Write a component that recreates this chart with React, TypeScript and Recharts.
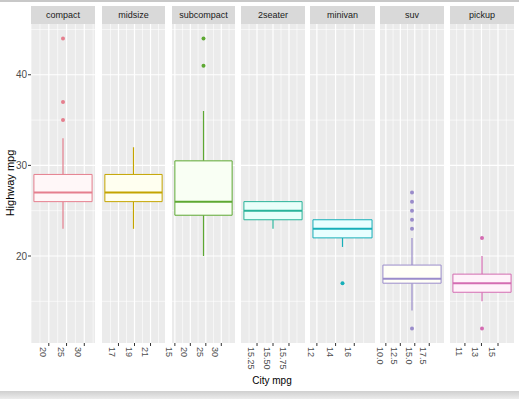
import React from "react";
import {
  ComposedChart,
  XAxis,
  YAxis,
  Scatter,
  ReferenceLine,
  ReferenceArea,
  CartesianGrid,
} from "recharts";

// ---------- data ----------
const CLASSES = ["compact", "midsize", "subcompact", "2seater", "minivan", "suv", "pickup"];
const LOWER = [23, 23, 20, 23, 21, 14, 15];
const Q1 = [26, 26, 24.5, 24, 22, 17, 16];
const MEDIAN = [27, 27, 26, 25, 23, 17.5, 17];
const Q3 = [29, 29, 30.5, 26, 24, 19, 18];
const UPPER = [33, 32, 36, 26, 24, 22, 20];
const OUTLIERS = [[44, 37, 35], [], [44, 41], [], [17], [27, 26, 25, 24, 23, 12], [22, 12]];
const BOX_LEFT = [15.8, 15.3, 15.0, 15.045, 11.58, 9.49, 9.55];
const BOX_RIGHT = [32.2, 22.45, 33.5, 15.955, 17.9, 19.55, 16.58];
const X_TICKS = [
  [20, 25, 30],
  [17, 19, 21],
  [15, 20, 25, 30],
  [15.25, 15.5, 15.75],
  [12, 14, 16],
  [10, 12.5, 15, 17.5],
  [11, 13, 15],
];
const X_TICK_LABELS = [
  ["20", "25", "30"],
  ["17", "19", "21"],
  ["15", "20", "25", "30"],
  ["15.25", "15.50", "15.75"],
  ["12", "14", "16"],
  ["10.0", "12.5", "15.0", "17.5"],
  ["11", "13", "15"],
];
const X_MINOR = [
  [15, 17.5, 22.5, 27.5, 32.5],
  [16, 18, 20, 22],
  [17.5, 22.5, 27.5, 32.5],
  [15.125, 15.375, 15.625, 15.875],
  [13, 15, 17],
  [11.25, 13.75, 16.25, 18.75],
  [10, 12, 14, 16],
];
const Y_DOMAIN = [10.4, 45.6];
const Y_TICKS = [20, 30, 40];
const Y_MINOR = [15, 25, 35, 45];

// ---------- styles ----------
const COLORS = ["#E57F8E", "#C4A400", "#5DA832", "#2AB39A", "#17AFB9", "#9A8CCB", "#D46CB2"];
const FILLS = ["#FFF7F8", "#FFFFF0", "#F9FFF4", "#E8FFFA", "#E8FFFF", "#FFFFF7", "#FFF2FA"];
const PANEL_LEFT = [31, 102, 172, 241, 310, 380, 450];
const PANEL_W = [64, 63, 63, 64, 65, 64, 64];
const PANEL_TOP = 24;
const PANEL_H = 319;
const Y_AXIS_W = 31;
const PAD = 10;
const FONT = "'Liberation Sans', Arial, sans-serif";

function makeTick(labels: string[], ticks: number[]) {
  return (props: any) => {
    const { x, y, payload } = props;
    const idx = ticks.indexOf(payload.value);
    const label = idx >= 0 ? labels[idx] : String(payload.value);
    return (
      <text
        x={0}
        y={0}
        transform={`translate(${x - 6},${y + 1}) rotate(90)`}
        textAnchor="start"
        dominantBaseline="central"
        fontSize={9}
        fontFamily={FONT}
        fill="#4D4D4D"
      >
        {label}
      </text>
    );
  };
}

function Panel({ i }: { i: number }) {
  const lo = BOX_LEFT[i];
  const hi = BOX_RIGHT[i];
  const w = hi - lo;
  const domain = [lo - 0.05 * w, hi + 0.05 * w];
  const center = (lo + hi) / 2;
  const isFirst = i === 0;
  const chartW = PANEL_W[i] + (isFirst ? Y_AXIS_W : PAD);
  const left = isFirst ? PANEL_LEFT[0] - Y_AXIS_W : PANEL_LEFT[i] - PAD;
  const outData = OUTLIERS[i].map((v) => ({ x: center, y: v }));
  const color = COLORS[i];
  return (
    <div style={{ position: "absolute", left, top: PANEL_TOP }}>
      <ComposedChart
        width={chartW}
        height={PANEL_H + 45}
        margin={{ top: 0, right: 0, bottom: 0, left: isFirst ? 0 : PAD }}
      >
        <CartesianGrid fill="#EBEBEB" stroke="none" horizontal={false} vertical={false} />
        <XAxis
          type="number"
          dataKey="x"
          domain={domain}
          allowDataOverflow
          ticks={X_TICKS[i]}
          interval={0}
          height={45}
          axisLine={false}
          tickLine={{ stroke: "#333333" }}
          tickSize={3}
          tickMargin={0}
          tick={makeTick(X_TICK_LABELS[i], X_TICKS[i])}
        />
        <YAxis
          type="number"
          dataKey="y"
          domain={Y_DOMAIN}
          allowDataOverflow
          ticks={Y_TICKS}
          interval={0}
          hide={!isFirst}
          width={Y_AXIS_W}
          axisLine={false}
          tickLine={{ stroke: "#333333" }}
          tickSize={3}
          tickMargin={1}
          tick={{ fontSize: 10, fill: "#4D4D4D", fontFamily: FONT }}
        />
        {Y_MINOR.map((v) => (
          <ReferenceLine key={"ym" + v} y={v} stroke="#FFFFFF" strokeWidth={0.6} zIndex={-50} />
        ))}
        {X_MINOR[i].map((v) => (
          <ReferenceLine key={"xm" + v} x={v} stroke="#FFFFFF" strokeWidth={0.6} zIndex={-50} />
        ))}
        {Y_TICKS.map((v) => (
          <ReferenceLine key={"yM" + v} y={v} stroke="#FFFFFF" strokeWidth={1.2} zIndex={-40} />
        ))}
        {X_TICKS[i].map((v) => (
          <ReferenceLine key={"xM" + v} x={v} stroke="#FFFFFF" strokeWidth={1.2} zIndex={-40} />
        ))}
        {UPPER[i] > Q3[i] && (
          <ReferenceLine
            segment={[
              { x: center, y: Q3[i] },
              { x: center, y: UPPER[i] },
            ]}
            stroke={color}
            strokeWidth={1.2}
            zIndex={90}
          />
        )}
        {LOWER[i] < Q1[i] && (
          <ReferenceLine
            segment={[
              { x: center, y: LOWER[i] },
              { x: center, y: Q1[i] },
            ]}
            stroke={color}
            strokeWidth={1.2}
            zIndex={90}
          />
        )}
        <ReferenceArea
          x1={lo}
          x2={hi}
          y1={Q1[i]}
          y2={Q3[i]}
          fill={FILLS[i]}
          fillOpacity={1}
          stroke={color}
          strokeWidth={1}
          zIndex={100}
        />
        <ReferenceLine
          segment={[
            { x: lo, y: MEDIAN[i] },
            { x: hi, y: MEDIAN[i] },
          ]}
          stroke={color}
          strokeWidth={2}
          zIndex={150}
        />
        <Scatter
          data={outData}
          dataKey="y"
          isAnimationActive={false}
          fill={color}
          shape={(p: any) => <circle cx={p.cx} cy={p.cy} r={2} fill={color} />}
        />
      </ComposedChart>
    </div>
  );
}

export default function App() {
  return (
    <div
      style={{
        position: "absolute",
        left: 0,
        top: 0,
        width: 519,
        height: 399,
        background: "#FFFFFF",
        overflow: "hidden",
        fontFamily: FONT,
      }}
    >
      <div style={{ position: "absolute", left: 0, top: 0, width: 519, height: 2, background: "#C8C8C8" }} />
      <div
        style={{
          position: "absolute",
          left: 0,
          top: 391,
          width: 519,
          height: 8,
          background: "linear-gradient(#CFCFCF, #ECECEC)",
        }}
      />
      {CLASSES.map((c, i) => (
        <div
          key={"strip" + c}
          style={{
            position: "absolute",
            left: PANEL_LEFT[i],
            top: 6,
            width: PANEL_W[i],
            height: 18,
            background: "#D9D9D9",
            color: "#1A1A1A",
            fontSize: 9,
            lineHeight: "18px",
            textAlign: "center",
          }}
        >
          {c}
        </div>
      ))}
      {CLASSES.map((c, i) => (
        <Panel key={"panel" + c} i={i} />
      ))}
      <div
        style={{
          position: "absolute",
          left: 222,
          top: 374,
          width: 100,
          textAlign: "center",
          fontSize: 10,
          color: "#000000",
          lineHeight: "14px",
        }}
      >
        City mpg
      </div>
      <div
        style={{
          position: "absolute",
          left: 10 - 50,
          top: 183 - 7,
          width: 100,
          height: 14,
          textAlign: "center",
          fontSize: 11,
          color: "#000000",
          lineHeight: "14px",
          transform: "rotate(-90deg)",
        }}
      >
        Highway mpg
      </div>
    </div>
  );
}
